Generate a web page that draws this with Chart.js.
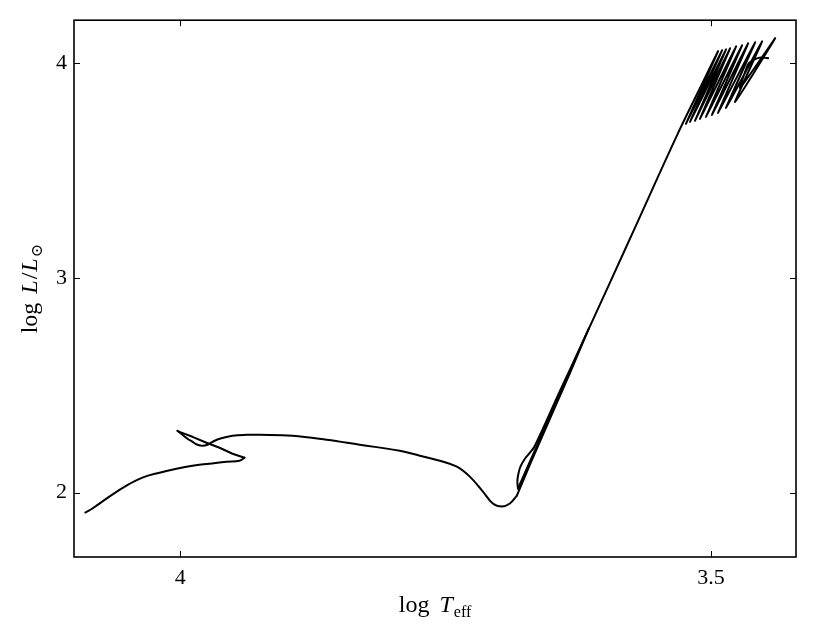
<!DOCTYPE html>
<html><head><meta charset="utf-8">
<script src="https://cdn.jsdelivr.net/npm/chart.js@4/dist/chart.umd.min.js"></script>
<style>html,body{margin:0;padding:0;background:#fff}</style>
</head><body>
<canvas id="c" width="817" height="642"></canvas>
<script>
// Main sequence
const msLogT = [4.0893,4.0827,4.0667,4.0506,4.0356,4.0195,4.0035,3.9884,3.9724,3.9563,3.9441,3.9394];
const msLogL = [1.9072,1.9258,1.9814,2.0325,2.0696,2.0928,2.1114,2.1253,2.1346,2.1438,2.1485,2.1624];
// Hook back to hotter temperature
const hookLogT = [3.9394,3.9507,3.9629,3.9752,3.9884,4.0007,4.0025];
const hookLogL = [2.1624,2.181,2.2088,2.232,2.2598,2.283,2.2877];
// Loop and Hertzsprung gap
const gapLogT = [4.0025,3.9978,3.9931,3.9884,3.9837,3.979,3.9743,3.9695,3.9629,3.9507,3.9375,3.9252,3.8941,3.862,3.8309,3.7932,3.7743,3.7555,3.7394,3.7272,3.7149,3.7055,3.697,3.6895,3.6829];
const gapLogL = [2.2877,2.2691,2.2506,2.2366,2.2227,2.2181,2.2227,2.2366,2.2506,2.2645,2.2691,2.2691,2.2645,2.2459,2.2227,2.1949,2.1717,2.1485,2.1206,2.0742,2.0046,1.949,1.935,1.949,1.9861];
// Red giant branch up to tip and drop back
const rgbLogT = [3.6829,3.6706,3.6518,3.6329,3.615,3.6819];
const rgbLogL = [1.9861,2.1299,2.3434,2.5568,2.7656,2.0186];
// Core He burning and asymptotic giant branch
const agbLogT = [3.6819,3.6824,3.681,3.6791,3.6753,3.6706,3.6659,3.6423,3.614,3.5763,3.531,3.5104];
const agbLogL = [2.0186,2.0557,2.0974,2.1253,2.1578,2.1856,2.2181,2.4733,2.7749,3.1832,3.675,3.884];
// Thermal pulses
const tpLogT = [3.5104,3.4934,3.5236,3.4896,3.5198,3.4859,3.5151,3.4821,3.5104,3.4764,3.5047,3.4708,3.4991,3.4651,3.4934,3.4585,3.4859,3.4519,3.4774,3.4396,3.4727,3.4651,3.4585,3.4519,3.4462];
const tpLogL = [3.884,4.0557,3.717,4.0603,3.7262,4.065,3.7309,4.0696,3.7402,4.0789,3.7494,4.0835,3.7587,4.0928,3.768,4.0974,3.7912,4.1021,3.819,4.116,3.884,3.9954,4.0186,4.0278,4.0232];

const xTickValues = [4, 3.5];
const xTickLabels = ['4', '3.5'];
const yTickValues = [2, 3, 4];
const yTickLabels = ['2', '3', '4'];

const phases = [
  [msLogT, msLogL, 0.4],
  [hookLogT, hookLogL, 0],
  [gapLogT, gapLogL, 0.4],
  [rgbLogT, rgbLogL, 0],
  [agbLogT, agbLogL, 0.4],
  [tpLogT, tpLogL, 0.15]
];

const datasets = phases.map(([ts, ls, tension]) => ({
  data: ts.map((t, i) => ({x: t, y: ls[i]})),
  showLine: true,
  borderColor: '#000',
  borderWidth: 2,
  pointRadius: 0,
  pointHoverRadius: 0,
  fill: false,
  tension: tension,
  borderJoinStyle: 'round',
  borderCapStyle: 'round'
}));

const SERIF = "'Liberation Serif', 'DejaVu Serif', serif";

function drawRich(ctx, segs, cx, cy, rotate) {
  ctx.save();
  ctx.translate(cx, cy);
  if (rotate) ctx.rotate(-Math.PI / 2);
  ctx.fillStyle = '#000';
  ctx.textBaseline = 'alphabetic';
  ctx.textAlign = 'left';
  let total = 0;
  segs.forEach(s => { ctx.font = s.font; total += ctx.measureText(s.text).width + (s.gap || 0); });
  let x = -total / 2;
  segs.forEach(s => {
    ctx.font = s.font;
    ctx.fillText(s.text, x, s.dy || 0);
    x += ctx.measureText(s.text).width + (s.gap || 0);
  });
  ctx.restore();
}

const framePlugin = {
  id: 'frame',
  afterDraw(chart) {
    const ctx = chart.ctx, a = chart.chartArea;
    const xs = chart.scales.x, ys = chart.scales.y;
    ctx.save();
    ctx.strokeStyle = '#000';
    ctx.lineWidth = 1;
    const tl = 6;
    xTickValues.forEach(v => {
      const p = Math.round(xs.getPixelForValue(v)) + 0.5;
      ctx.beginPath();
      ctx.moveTo(p, a.bottom); ctx.lineTo(p, a.bottom - tl);
      ctx.moveTo(p, a.top); ctx.lineTo(p, a.top + tl);
      ctx.stroke();
    });
    yTickValues.forEach(v => {
      const p = Math.round(ys.getPixelForValue(v)) + 0.5;
      ctx.beginPath();
      ctx.moveTo(a.left, p); ctx.lineTo(a.left + tl, p);
      ctx.moveTo(a.right, p); ctx.lineTo(a.right - tl, p);
      ctx.stroke();
    });
    ctx.lineWidth = 1.6;
    ctx.strokeRect(a.left, a.top, a.right - a.left, a.bottom - a.top);
    ctx.restore();

    const f = '24px ' + SERIF, fi = 'italic 24px ' + SERIF, fs = '16px ' + SERIF;
    drawRich(ctx, [
      {text: 'log', font: f, gap: 10},
      {text: 'T', font: fi, gap: 1},
      {text: 'eff', font: fs, dy: 5}
    ], (a.left + a.right) / 2, 612, false);
    drawRich(ctx, [
      {text: 'log', font: f, gap: 9},
      {text: 'L', font: fi, gap: 1},
      {text: '/', font: f, gap: 1},
      {text: 'L', font: fi, gap: 1},
      {text: '\u2299', font: fs, dy: 5}
    ], 37, (a.top + a.bottom) / 2, true);
  }
};

new Chart(document.getElementById('c'), {
  type: 'scatter',
  data: {datasets: datasets},
  options: {
    responsive: false,
    animation: false,
    layout: {padding: {top: 19, right: 21, left: 0, bottom: 0}},
    plugins: {legend: {display: false}, tooltip: {enabled: false}},
    scales: {
      x: {
        type: 'linear', reverse: true, min: 3.42, max: 4.1,
        afterBuildTicks: s => { s.ticks = xTickValues.map(v => ({value: v})); },
        afterFit: s => { s.height = 85; },
        grid: {display: false, drawTicks: false},
        border: {display: false},
        ticks: {
          color: '#000', padding: 8, maxRotation: 0, autoSkip: false,
          font: {family: SERIF, size: 22},
          callback: v => xTickLabels[xTickValues.indexOf(v)]
        }
      },
      y: {
        type: 'linear', min: 1.7, max: 4.2,
        afterBuildTicks: s => { s.ticks = yTickValues.map(v => ({value: v})); },
        afterFit: s => { s.width = 74; },
        grid: {display: false, drawTicks: false},
        border: {display: false},
        ticks: {
          color: '#000', padding: 7, autoSkip: false,
          font: {family: SERIF, size: 22},
          callback: v => yTickLabels[yTickValues.indexOf(v)]
        }
      }
    }
  },
  plugins: [framePlugin]
});
</script>
</body></html>
